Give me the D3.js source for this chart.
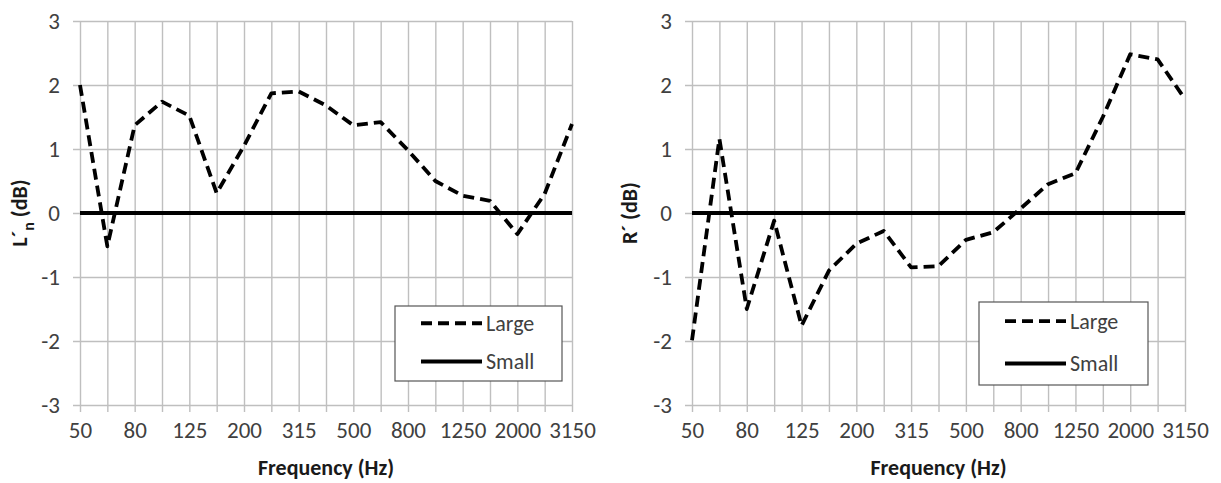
<!DOCTYPE html>
<html>
<head>
<meta charset="utf-8">
<script src="https://cdn.jsdelivr.net/npm/d3@7"></script>
<style>
  body { margin: 0; background: #fff; }
  svg { display: block; }
</style>
</head>
<body>
<div id="chart"></div>
<script>

// one-third octave bands, shown on both panels
const freqs = ['50','63','80','100','125','160','200','250','315','400',
               '500','630','800','1000','1250','1600','2000','2500','3150']
const freqLabels = ['50','80','125','200','315','500','800','1250','2000','3150']
const yTicks = [-3,-2,-1,0,1,2,3]

// L'n difference, left panel
const lnLarge = [2.0,-0.52,1.37,1.74,1.52,0.31,1.05,1.87,1.9,1.68,
                 1.37,1.42,0.98,0.5,0.27,0.19,-0.33,0.3,1.39]
const lnSmall = [0,0,0,0,0,0,0,0,0,0,0,0,0,0,0,0,0,0,0]

// R' difference, right panel
const rLarge = [-1.99,1.16,-1.5,-0.12,-1.76,-0.9,-0.48,-0.28,-0.85,-0.83,
                -0.42,-0.3,0.07,0.45,0.62,1.5,2.48,2.4,1.78]
const rSmall = [0,0,0,0,0,0,0,0,0,0,0,0,0,0,0,0,0,0,0]

const seriesNames = ['Large','Small']

const width = 1221,
      height = 483,
      font = 'Carlito, Lato, sans-serif',
      gridColor = '#bfbfbf',
      textColor = '#404040',
      dash = '11,6'

const svg = d3.select('#chart')
    .append('svg')
    .attr('width',width)
    .attr('height',height)
    .attr('font-family',font)

function panel(opts) {

    const x = d3.scalePoint().domain(freqs).range([opts.left,opts.right])
    const y = d3.scaleLinear().domain([-3,3]).range([405,21])

    const g = svg.append('g')

    // horizontal grid + outside tick marks on the value axis
    g.append('g')
        .attr('transform',`translate(${opts.right},0)`)
        .call(d3.axisLeft(y).tickValues(yTicks)
            .tickSize(opts.right-opts.left+7).tickFormat(''))
        .call(s => s.select('.domain').remove())
        .selectAll('line')
        .attr('stroke',gridColor)
        .attr('stroke-width',1.4)

    // vertical grid + outside tick marks on the category axis
    g.append('g')
        .attr('transform',`translate(0,${y(-3)+7})`)
        .call(d3.axisTop(x).tickSize(y(-3)-y(3)+7).tickFormat(''))
        .call(s => s.select('.domain').remove())
        .selectAll('line')
        .attr('stroke',gridColor)
        .attr('stroke-width',1.4)

    // y tick labels
    g.append('g')
        .attr('transform',`translate(${opts.left-7},0)`)
        .call(d3.axisLeft(y).tickValues(yTicks).tickSize(0).tickPadding(13)
            .tickFormat(d => String(d)))
        .call(s => s.select('.domain').remove())
        .selectAll('text')
        .attr('font-size','23px')
        .attr('font-family',font)
        .attr('fill',textColor)

    // x tick labels, every other band
    g.append('g')
        .attr('transform',`translate(0,${y(-3)})`)
        .call(d3.axisBottom(x).tickValues(freqLabels).tickSize(0).tickPadding(17))
        .call(s => s.select('.domain').remove())
        .selectAll('text')
        .attr('font-size','23px')
        .attr('font-family',font)
        .attr('fill',textColor)

    const line = d3.line()
        .x((d,i) => x(freqs[i]))
        .y(d => y(d))

    g.append('path')
        .datum(opts.small)
        .attr('fill','none')
        .attr('stroke','#000')
        .attr('stroke-width',4)
        .attr('d',line)

    g.append('path')
        .datum(opts.large)
        .attr('fill','none')
        .attr('stroke','#000')
        .attr('stroke-width',3.8)
        .attr('stroke-dasharray',dash)
        .attr('stroke-linejoin','round')
        .attr('d',line)

    // axis titles
    g.append('text')
        .attr('x',(opts.left+opts.right)/2)
        .attr('y',475)
        .attr('text-anchor','middle')
        .attr('font-size','22px')
        .attr('font-weight','bold')
        .attr('fill','#1a1a1a')
        .text('Frequency (Hz)')

    const yt = g.append('text')
        .attr('transform',`translate(${opts.titleX},${(y(3)+y(-3))/2}) rotate(-90)`)
        .attr('text-anchor','middle')
        .attr('font-size','22px')
        .attr('font-weight','bold')
        .attr('fill','#1a1a1a')
    yt.append('tspan').text(opts.yTitle[0])
    if (opts.yTitle[1]) {
        yt.append('tspan').attr('dy',7).attr('font-size','16px').text(opts.yTitle[1])
        yt.append('tspan').attr('dy',-7).text(opts.yTitle[2])
    } else {
        yt.append('tspan').text(opts.yTitle[2])
    }

    // legend
    const lg = g.append('g')
        .attr('transform',`translate(${opts.legend[0]},${opts.legend[1]})`)

    lg.append('rect')
        .attr('width',opts.legend[2])
        .attr('height',opts.legend[3])
        .attr('fill','#fff')
        .attr('stroke','#555')
        .attr('stroke-width',1.2)

    const rowY = [opts.legend[3]*0.23, opts.legend[3]*0.74]
    seriesNames.forEach((name,k) => {
        lg.append('line')
            .attr('x1',26).attr('x2',87)
            .attr('y1',rowY[k]).attr('y2',rowY[k])
            .attr('stroke','#000')
            .attr('stroke-width',k ? 4 : 3.8)
            .attr('stroke-dasharray',k ? null : dash)
        lg.append('text')
            .attr('x',91)
            .attr('y',rowY[k])
            .attr('dy','0.35em')
            .attr('font-size','22px')
            .attr('fill',textColor)
            .text(name)
    })
}

panel({
    left: 80, right: 572, titleX: 27,
    large: lnLarge, small: lnSmall,
    yTitle: ['L\u00b4','n',' (dB)'],
    legend: [395,306,167,75]
})

panel({
    left: 692, right: 1185, titleX: 637,
    large: rLarge, small: rSmall,
    yTitle: ['R\u00b4',null,' (dB)'],
    legend: [979,302,169,83]
})

</script>
</body>
</html>
